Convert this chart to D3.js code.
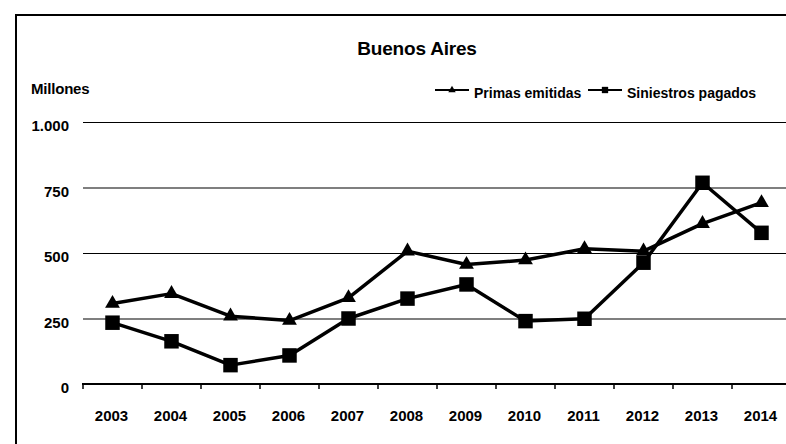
<!DOCTYPE html>
<html>
<head>
<meta charset="utf-8">
<script src="https://cdn.jsdelivr.net/npm/d3@7"></script>
<style>
    body { margin: 0; background: #fff; }
    svg { display: block; }
    text { font-family: "Liberation Sans", Arial, sans-serif; font-weight: bold; fill: #000; }
</style>
</head>
<body>
<div id="chart"></div>
<script>
// chart data
const years = ["2003", "2004", "2005", "2006", "2007", "2008", "2009", "2010", "2011", "2012", "2013", "2014"];
const primasEmitidas = [307, 345, 259, 242, 329, 507, 456, 473, 516, 507, 612, 692];
const siniestrosPagados = [234, 163, 72, 109, 250, 326, 380, 240, 249, 463, 768, 577];
const yTicks = [0, 250, 500, 750, 1000];

const width = 786,
    height = 444;

let svg = d3.select("#chart")
    .append("svg")
    .attr("width", width)
    .attr("height", height);

// outer frame (left + top edges visible, rest cut off)
svg.append("path")
    .attr("d", "M16,444 L16,15 L786,15")
    .attr("fill", "none")
    .attr("stroke", "#000")
    .attr("stroke-width", 2);

let x = d3.scaleBand()
    .domain(years)
    .range([83, 791]);

let y = d3.scaleLinear()
    .domain([0, 1000])
    .range([384, 122]);

let fmt = d => d3.format(",")(d).replace(",", ".");

// gridlines
svg.append("g")
    .selectAll("line")
    .data(yTicks.filter(d => d > 0))
    .enter()
    .append("line")
    .attr("x1", 83)
    .attr("x2", width)
    .attr("y1", d => y(d) + 0.5)
    .attr("y2", d => y(d) + 0.5)
    .attr("stroke", "#000")
    .attr("stroke-width", 1.2);

// y labels
svg.append("g")
    .selectAll("text")
    .data(yTicks)
    .enter()
    .append("text")
    .attr("x", 69)
    .attr("y", d => y(d) + 9)
    .attr("text-anchor", "end")
    .attr("font-size", 15)
    .text(fmt);

// x axis
let xAxis = svg.append("g")
    .attr("transform", `translate(0,${y(0)})`);
xAxis.append("line")
    .attr("x1", 82)
    .attr("x2", width)
    .attr("stroke", "#000")
    .attr("stroke-width", 2);
xAxis.selectAll(".tk")
    .data(years)
    .enter()
    .append("line")
    .attr("x1", d => x(d))
    .attr("x2", d => x(d))
    .attr("y1", 0)
    .attr("y2", 5)
    .attr("stroke", "#000")
    .attr("stroke-width", 1.5);
xAxis.selectAll("text")
    .data(years)
    .enter()
    .append("text")
    .attr("x", d => x(d) + x.bandwidth() / 2 - 1)
    .attr("y", 37)
    .attr("text-anchor", "middle")
    .attr("font-size", 15)
    .text(d => d);

// titles
svg.append("text")
    .attr("x", 417)
    .attr("y", 55)
    .attr("text-anchor", "middle")
    .attr("font-size", 19)
    .attr("letter-spacing", -0.2)
    .text("Buenos Aires");

svg.append("text")
    .attr("x", 31)
    .attr("y", 94)
    .attr("font-size", 15)
    .attr("letter-spacing", -0.2)
    .text("Millones");

let line = d3.line()
    .x((d, i) => x(years[i]) + x.bandwidth() / 2)
    .y(d => y(d));

let tri = d3.symbol().type(d3.symbolTriangle);
let sq = d3.symbol().type(d3.symbolSquare);

function drawSeries(values, symbolGen, size) {
    let g = svg.append("g");
    g.append("path")
        .datum(values)
        .attr("d", line)
        .attr("fill", "none")
        .attr("stroke", "#000")
        .attr("stroke-width", 3.5)
        .attr("stroke-linejoin", "round");
    g.selectAll(".m")
        .data(values)
        .enter()
        .append("path")
        .attr("d", symbolGen.size(size)())
        .attr("transform", (d, i) => `translate(${x(years[i]) + x.bandwidth() / 2},${y(d)})`)
        .attr("fill", "#000");
}

drawSeries(primasEmitidas, tri, 95);
drawSeries(siniestrosPagados, sq, 210);

// legend
let legend = [
    {name: "Primas emitidas", sym: tri, size: 24, x: 435},
    {name: "Siniestros pagados", sym: sq, size: 40, x: 588}
];
let lg = svg.append("g")
    .selectAll("g")
    .data(legend)
    .enter()
    .append("g")
    .attr("transform", d => `translate(${d.x},90)`);
lg.append("line")
    .attr("x1", 0)
    .attr("x2", 34)
    .attr("stroke", "#000")
    .attr("stroke-width", 2);
lg.append("path")
    .attr("d", d => d.sym.size(d.size)())
    .attr("transform", "translate(17,0)")
    .attr("fill", "#000");
lg.append("text")
    .attr("x", 39)
    .attr("y", 8)
    .attr("font-size", 14)
    .attr("letter-spacing", 0)
    .text(d => d.name);
</script>
</body>
</html>
